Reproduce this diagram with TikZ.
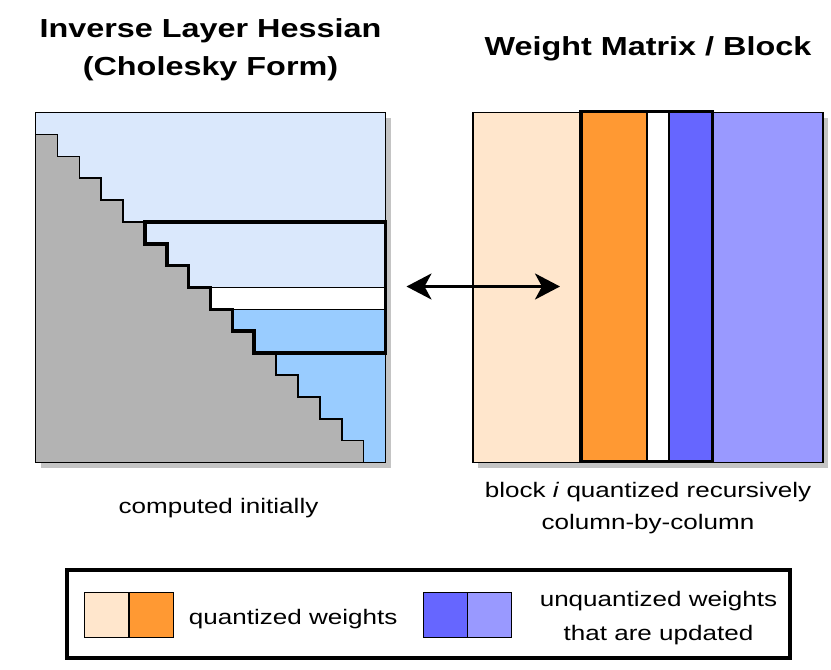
\documentclass[tikz,border=0pt]{standalone}
\usepackage{fontspec}
\setmainfont{Liberation Sans}[FakeStretch=1.24]
\usetikzlibrary{arrows.meta}
\definecolor{lblue}{HTML}{DAE8FC}
\definecolor{dblue}{HTML}{99CCFF}
\definecolor{hgray}{HTML}{B3B3B3}
\definecolor{shad}{HTML}{C4C4C4}
\definecolor{peach}{HTML}{FFE6CC}
\definecolor{orng}{HTML}{FF9933}
\definecolor{vblue}{HTML}{6666FF}
\definecolor{lpurp}{HTML}{9999FF}
\tikzset{
  thin line/.style={draw=black, line width=1.5pt},
  bold line/.style={draw=black, line width=3.6pt, line join=miter},
  shadowbox/.style={fill=shad},
  titletext/.style={font=\fontsize{26.1}{37.5}\selectfont\bfseries, align=center, anchor=base, inner sep=0pt},
  bodytext/.style={font=\fontsize{21}{32}\selectfont, align=center, anchor=base, inner sep=0pt},
  legtext/.style={font=\fontsize{21}{34}\selectfont, align=center, anchor=base, inner sep=0pt},
  dblarrow/.style={line width=3pt, {Stealth[length=25pt,width=26pt,inset=7pt]}-{Stealth[length=25pt,width=26pt,inset=7pt]}},
}
\begin{document}
\begin{tikzpicture}[x=1pt, y=-1pt]
\useasboundingbox (0,0) rectangle (831,670);

% ---------- titles (base = baseline of last line) ----------
\node[titletext] (t1) at (210.5,75.2) {Inverse Layer Hessian\\(Cholesky Form)};
\node[titletext] (t2) at (648,55) {Weight Matrix / Block};

% ---------- left matrix (inverse Hessian) ----------
\begin{scope}[shift={(35.5pt,-112.5pt)}, x=21.875pt, y=-21.875pt]
  \fill[shadowbox] (0.23,0.23) rectangle (16.23,16.23);
  \filldraw[thin line, fill=lblue] (0,0) rectangle (16,8);
  \filldraw[thin line, fill=white] (0,8) rectangle (16,9);
  \filldraw[thin line, fill=dblue] (0,9) rectangle (16,16);
  \filldraw[thin line, fill=hgray] (0,1)
     \foreach \k in {1,...,15}{ -- ++(1,0) -- ++(0,1) } -- (0,16) -- cycle;
  \draw[thin line] (0,0) rectangle (16,16);
  \draw[bold line] (5,5) -- (16,5) -- (16,11) -- (10,11) -- (10,10) -- (9,10)
     -- (9,9) -- (8,9) -- (8,8) -- (7,8) -- (7,7) -- (6,7) -- (6,6) -- (5,6) -- cycle;
\end{scope}

% ---------- right matrix (weights) ----------
\begin{scope}[shift={(473pt,-112.5pt)}, x=21.875pt, y=-21.875pt]
  \fill[shadowbox] (0.23,0.23) rectangle (16.23,16.23);
  \filldraw[thin line, fill=peach] (0,0) rectangle (4.95,16);
  \filldraw[thin line, fill=orng]  (4.95,0) rectangle (7.95,16);
  \filldraw[thin line, fill=white] (7.95,0) rectangle (8.95,16);
  \filldraw[thin line, fill=vblue] (8.95,0) rectangle (10.95,16);
  \filldraw[thin line, fill=lpurp] (10.95,0) rectangle (16,16);
  \draw[bold line] (4.95,-0.05) rectangle (10.95,15.95);
\end{scope}

% ---------- double arrow ----------
\coordinate (arrL) at (406.5,286.5);
\coordinate (arrR) at (560,286.5);
\draw[dblarrow] (arrL) -- (arrR);

% ---------- captions ----------
\node[bodytext] (c1) at (218.5,513) {computed initially};
\node[bodytext] (c2) at (648,529.7) {block \textit{i} quantized recursively\\column-by-column};

% ---------- legend ----------
\draw[line width=4pt] (67,570) rectangle (790,658);
\filldraw[thin line, fill=peach] (84.5,592.7) rectangle (129,637.3);
\filldraw[thin line, fill=orng]  (129,592.7) rectangle (173.5,637.3);
\node[legtext] (l1) at (293.2,624) {quantized weights};
\filldraw[thin line, fill=vblue] (423.3,592.7) rectangle (467.7,637.3);
\filldraw[thin line, fill=lpurp] (467.7,592.7) rectangle (511.7,637.3);
\node[legtext] (l2) at (658.5,640) {unquantized weights\\that are updated};
\end{tikzpicture}
\end{document}
